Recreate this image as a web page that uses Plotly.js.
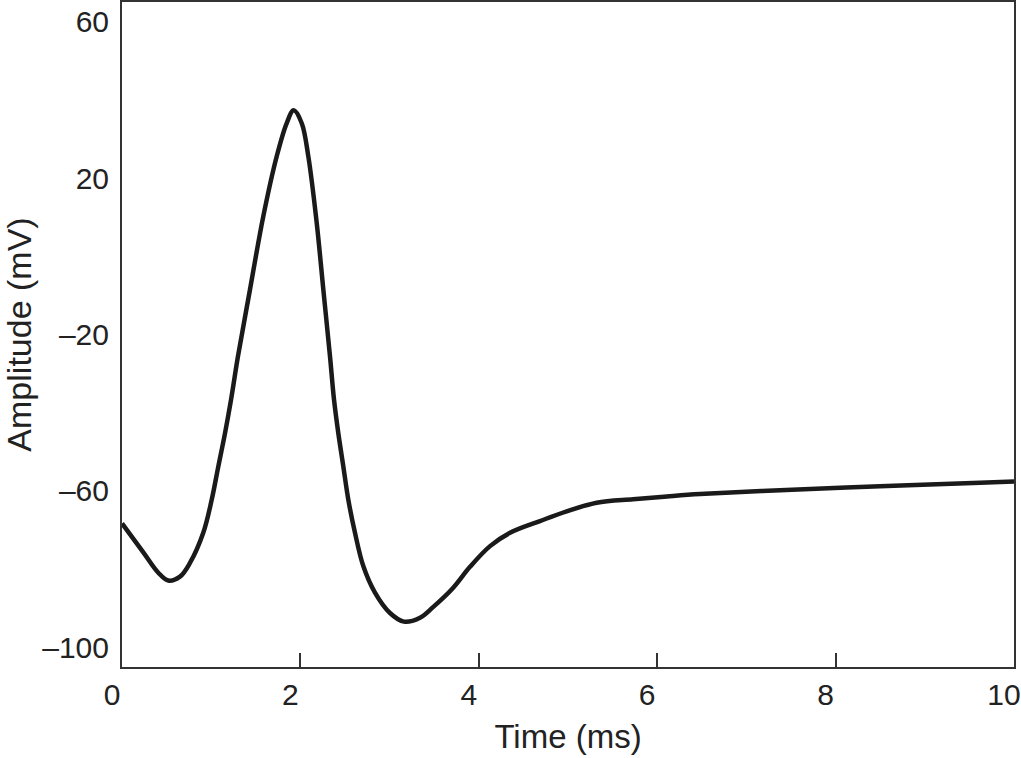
<!DOCTYPE html>
<html>
<head>
<meta charset="utf-8">
<script src="https://cdn.plot.ly/plotly-3.0.1.min.js"></script>
<style>
html,body{margin:0;padding:0;background:#fff;}
#chart{width:1021px;height:758px;}
</style>
</head>
<body>
<div id="chart"></div>
<script>
// Time (ms)
const timeMs = [0, 0.239, 0.407, 0.519, 0.650, 0.762, 0.911, 1.006, 1.080, 1.155, 1.222, 1.300, 1.435, 1.584, 1.734, 1.846, 1.925, 2.015, 2.089, 2.183, 2.257, 2.332, 2.377, 2.425, 2.481, 2.537, 2.612, 2.705, 2.836, 3.004, 3.161, 3.341, 3.487, 3.711, 3.901, 4.126, 4.350, 4.686, 4.985, 5.322, 5.729, 6.110, 6.480, 7.377, 8.498, 9.619, 10.0];
// Amplitude (mV)
const amplitudeMv = [-68.3, -75.7, -80.9, -82.9, -81.9, -78.4, -70.7, -62.2, -53.7, -45.2, -36.7, -25.6, -8.5, 10.2, 25.5, 34.0, 37.3, 34.0, 25.5, 8.5, -8.5, -25.6, -36.7, -45.2, -53.7, -62.2, -70.7, -79.2, -86.0, -91.2, -93.4, -92.4, -89.7, -84.8, -79.4, -74.1, -70.7, -67.7, -65.2, -63.0, -62.1, -61.4, -60.8, -59.8, -58.8, -57.9, -57.6];
const xTicks = [0, 2, 4, 6, 8, 10];
const yTicks = [60, 20, -20, -60, -100];
const yTickText = ['60', '20', '\u201320', '\u201360', '\u2013100'];

const font = 'Liberation Sans, Arial, Helvetica, sans-serif';
const ink = '#222222';

const trace = {
  x: timeMs,
  y: amplitudeMv,
  type: 'scatter',
  mode: 'lines',
  line: {color: '#1a1a1a', width: 4.5, shape: 'spline', smoothing: 1},
  hoverinfo: 'x+y'
};

const layout = {
  width: 1021,
  height: 758,
  margin: {l: 122, r: 7, t: 2, b: 91},
  paper_bgcolor: '#ffffff',
  plot_bgcolor: '#ffffff',
  showlegend: false,
  font: {family: font, color: ink, size: 30},
  xaxis: {
    range: [0, 10],
    tickvals: xTicks,
    ticktext: xTicks.map(String),
    ticks: 'inside',
    ticklen: 14,
    tickwidth: 2,
    tickcolor: '#333',
    showline: true,
    linecolor: '#333',
    linewidth: 2,
    mirror: true,
    showgrid: false,
    zeroline: false,
    tickfont: {family: font, size: 30, color: ink},
    ticklabelstandoff: 0,
    ticklabelshift: -10,
    ticklabeloverflow: 'allow',
    title: {text: 'Time (ms)', font: {family: font, size: 33, color: ink}, standoff: 15}
  },
  yaxis: {
    range: [-105, 65],
    tickvals: yTicks,
    ticktext: yTickText,
    ticks: '',
    showline: true,
    linecolor: '#333',
    linewidth: 2,
    mirror: true,
    showgrid: false,
    zeroline: false,
    tickfont: {family: font, size: 30, color: ink},
    ticklabelstandoff: 5,
    title: {text: 'Amplitude (mV)', font: {family: font, size: 34, color: ink}, standoff: 12}
  }
};

Plotly.newPlot('chart', [trace], layout, {displayModeBar: false, staticPlot: true});
</script>
</body>
</html>
